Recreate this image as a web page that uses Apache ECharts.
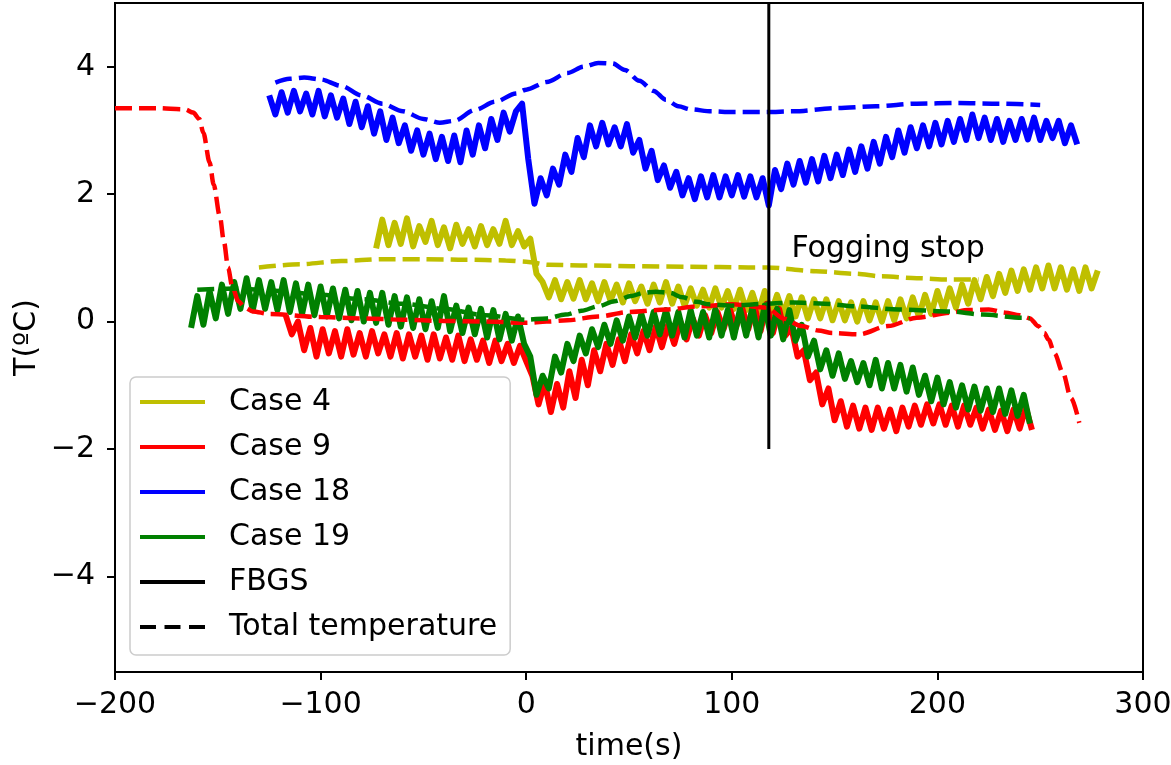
<!DOCTYPE html>
<html>
<head>
<meta charset="utf-8">
<script src="https://cdn.jsdelivr.net/npm/echarts@6/dist/echarts.min.js"></script>
<style>
html,body{margin:0;padding:0;background:#fff;}
#chart{width:1171px;height:765px;}
</style>
</head>
<body>
<div id="chart"></div>
<script>
// ---------- data ----------
var xTicks = [-200, -100, 0, 100, 200, 300];
var yTicks = [-4, -2, 0, 2, 4];

// noisy measured traces: start time, sample step (s), values
var case4Start = -73, case4Step = 3;
var case4Vals = [1.15,1.60,1.20,1.55,1.22,1.62,1.18,1.50,1.25,1.58,1.20,1.48,1.15,1.52,1.22,1.45,1.18,1.50,1.20,1.45,1.22,1.58,1.20,1.42,1.18,
1.30,0.75,0.62,0.38,0.65,0.35,0.62,0.36,0.65,0.35,0.60,0.32,0.62,0.33,0.58,0.30,0.60,0.32,0.55,0.28,0.58,0.30,0.62,0.28,0.55,0.25,0.52,0.25,0.50,0.22,0.52,0.22,0.48,0.20,0.50,0.18,0.45,0.15,0.48,0.12,0.42,0.12,0.40,0.08,0.38,0.05,0.35,0.05,0.35,0.02,0.32,0.02,0.30,0.00,0.32,0.02,0.30,0.00,0.32,0.02,0.35,0.05,0.38,0.08,0.42,0.12,0.48,0.18,0.52,0.22,0.58,0.28,0.65,0.35,0.70,0.40,0.75,0.45,0.80,0.48,0.82,0.50,0.85,0.52,0.88,0.52,0.85,0.50,0.82,0.48,0.85,0.52,0.80];

var case9Start = -117, case9Step = 3;
var case9Vals = [0.10,-0.20,0.00,-0.45,-0.10,-0.55,-0.12,-0.50,-0.15,-0.55,-0.12,-0.52,-0.18,-0.55,-0.15,-0.50,-0.20,-0.55,-0.18,-0.58,-0.20,-0.55,-0.22,-0.60,-0.20,-0.58,-0.25,-0.60,-0.22,-0.62,-0.28,-0.60,-0.30,-0.65,-0.30,-0.62,-0.35,-0.65,-0.38,-0.62,
-0.85,-1.30,-0.95,-1.42,-0.98,-1.35,-0.78,-1.20,-0.60,-1.00,-0.45,-0.78,-0.35,-0.68,-0.28,-0.62,-0.20,-0.50,-0.15,-0.45,-0.08,-0.40,-0.05,-0.35,0.00,-0.28,0.05,-0.22,0.10,-0.18,0.15,-0.12,0.20,-0.10,0.22,-0.12,0.25,-0.15,0.28,-0.18,0.20,-0.22,-0.10,-0.55,-0.45,-0.92,-0.80,-1.30,-1.05,-1.55,-1.25,-1.65,-1.32,-1.68,-1.35,-1.70,-1.35,-1.68,-1.38,-1.72,-1.35,-1.65,-1.32,-1.62,-1.30,-1.60,-1.30,-1.62,-1.32,-1.65,-1.32,-1.62,-1.35,-1.68,-1.38,-1.70,-1.40,-1.72,-1.38,-1.68,-1.35,-1.70];

var case18Start = -125, case18Step = 3;
var case18Vals = [3.55,3.25,3.60,3.28,3.62,3.30,3.58,3.25,3.62,3.22,3.55,3.20,3.50,3.10,3.45,3.05,3.38,2.95,3.30,2.85,3.20,2.80,3.08,2.68,3.00,2.62,2.95,2.55,2.90,2.52,2.92,2.50,3.00,2.62,3.08,2.72,3.18,2.85,3.28,2.98,3.30,3.42,
2.55,1.85,2.25,1.98,2.40,2.15,2.62,2.35,2.88,2.58,3.08,2.75,3.12,2.78,3.05,2.75,3.10,2.65,2.85,2.40,2.68,2.22,2.45,2.10,2.35,1.98,2.25,1.92,2.28,1.95,2.30,1.95,2.28,1.98,2.30,1.96,2.28,1.95,2.25,1.82,2.38,2.08,2.48,2.15,2.52,2.18,2.55,2.20,2.60,2.25,2.62,2.30,2.70,2.35,2.75,2.40,2.82,2.48,2.90,2.58,3.00,2.65,3.05,2.72,3.08,2.75,3.12,2.78,3.15,2.82,3.18,2.85,3.25,2.88,3.20,2.85,3.18,2.82,3.15,2.85,3.18,2.86,3.20,2.85,3.15,2.88,3.15,2.80,3.08,2.78];

var case19Start = -163, case19Step = 3;
var case19Vals = [-0.10,0.40,-0.05,0.48,0.05,0.58,0.12,0.62,0.20,0.68,0.18,0.65,0.20,0.62,0.18,0.65,0.15,0.60,0.12,0.58,0.10,0.55,0.08,0.52,0.05,0.50,0.02,0.48,0.00,0.45,-0.02,0.45,-0.05,0.40,-0.08,0.38,-0.10,0.35,-0.12,0.32,-0.10,0.40,-0.15,0.25,-0.18,0.22,-0.20,0.20,-0.25,0.18,-0.28,0.12,-0.30,0.08,-0.35,
-0.55,-1.15,-0.85,-1.05,-0.55,-0.80,-0.35,-0.62,-0.22,-0.50,-0.12,-0.40,-0.05,-0.35,0.02,-0.30,0.08,-0.25,0.12,-0.22,0.15,-0.20,0.18,-0.22,0.15,-0.25,0.18,-0.22,0.15,-0.25,0.20,-0.22,0.18,-0.25,0.20,-0.22,0.22,-0.25,0.25,-0.22,0.20,-0.28,0.18,-0.30,-0.05,-0.55,-0.30,-0.75,-0.45,-0.85,-0.50,-0.90,-0.62,-0.95,-0.65,-1.00,-0.60,-1.05,-0.65,-1.05,-0.68,-1.10,-0.72,-1.15,-0.85,-1.25,-0.88,-1.30,-0.95,-1.35,-1.00,-1.38,-1.02,-1.40,-1.05,-1.42,-1.05,-1.45,-1.08,-1.48,-1.15,-1.60];

// total temperature (dashed) curves
var case4TotT = [-130,-110,-90,-70,-50,-30,-10,0,11,30,51,80,108,117,141,160,173,190,206,220];
var case4TotV = [0.85,0.90,0.95,0.98,0.98,0.97,0.96,0.94,0.89,0.88,0.87,0.86,0.85,0.85,0.79,0.75,0.71,0.68,0.66,0.66];

var case9TotT = [-200,-180,-166,-162,-159,-157,-154,-152,-149,-147,-145,-143,-140,-137,-133,-125,-100,-80,-60,-40,-20,0,10,20,35,50,68,85,100,117,125,134,142,149,162,176,190,206,215,225,233,240,245,249,252,254,257,261,265,269];
var case9TotV = [3.35,3.35,3.33,3.28,3.18,2.96,2.50,2.15,1.65,1.25,0.85,0.55,0.32,0.22,0.16,0.12,0.07,0.05,0.03,0.01,0.00,-0.02,0.00,0.02,0.08,0.15,0.19,0.24,0.27,0.22,0.05,-0.07,-0.14,-0.18,-0.20,-0.07,0.06,0.14,0.18,0.19,0.14,0.10,0.05,-0.07,-0.18,-0.28,-0.50,-0.80,-1.20,-1.59];

var case18TotT = [-122,-115,-108,-100,-90,-80,-70,-60,-50,-42,-35,-25,-15,-5,0,10,20,28,35,42,48,55,62,68,74,80,90,100,117,130,150,170,190,210,230,250];
var case18TotV = [3.75,3.81,3.83,3.80,3.70,3.55,3.42,3.30,3.18,3.12,3.15,3.32,3.45,3.58,3.64,3.76,3.90,4.00,4.06,4.05,3.95,3.78,3.62,3.48,3.38,3.33,3.30,3.29,3.29,3.30,3.35,3.38,3.42,3.43,3.42,3.40];

var case19TotT = [-160,-140,-120,-100,-80,-60,-40,-20,0,10,19,27,35,43,51,57,63,70,76,83,89,100,117,130,145,160,181,206,222,241,245];
var case19TotV = [0.50,0.52,0.48,0.42,0.35,0.28,0.20,0.10,0.03,0.05,0.11,0.17,0.24,0.32,0.40,0.45,0.47,0.45,0.38,0.31,0.27,0.25,0.28,0.30,0.28,0.24,0.19,0.16,0.11,0.06,0.05];

// FBGS vertical marker (fogging stop)
var fbgsTime = 118;
var fbgsRange = [-2, 5];
var noteText = 'Fogging stop';
var notePos = [129, 1.14];

var legendNames = ['Case 4', 'Case 9', 'Case 18', 'Case 19', 'FBGS', 'Total temperature'];
var colors = {c4: '#bfbf00', c9: '#ff0000', c18: '#0000ff', c19: '#008000', k: '#000000'};

// ---------- build ----------
function noisy(start, step, vals) {
  return vals.map(function (v, i) { return [start + i * step, v]; });
}
function pairs(t, v) {
  return t.map(function (x, i) { return [x, v[i]]; });
}
function minusFmt(v) { return String(v).replace('-', '\u2212'); }

var FONT = 'DejaVu Sans';
var FS = 30;
var solidIcon = 'path://M0,0H65V4H0Z';
var dashIcon = 'path://M0,0H15V4H0Z M23,0H38V4H23Z M46,0H61V4H46Z';

function noisySeries(name, data, color) {
  return {
    name: name, type: 'line', data: data, showSymbol: false, symbol: 'none',
    color: color, lineStyle: {width: 6, color: color, join: 'round', cap: 'butt'}, animation: false, silent: true
  };
}
function dashSeries(name, data, color) {
  return {
    name: name, type: 'line', data: data, showSymbol: false, symbol: 'none', smooth: 0.3, smoothMonotone: 'x',
    color: color, lineStyle: {width: 4.5, color: color, type: [17, 7], cap: 'butt'}, animation: false, silent: true
  };
}

var chart = echarts.init(document.getElementById('chart'), null, {renderer: 'canvas'});
chart.setOption({
  backgroundColor: '#fff',
  animation: false,
  textStyle: {fontFamily: FONT},
  grid: {left: 115, right: 28, top: 3, bottom: 93, show: true, borderColor: '#000', borderWidth: 2,
         backgroundColor: 'transparent', outerBoundsMode: 'none', containLabel: false},
  xAxis: {
    type: 'value', min: xTicks[0], max: xTicks[xTicks.length - 1], interval: 100,
    name: 'time(s)', nameLocation: 'middle', nameGap: 60, nameMoveOverlap: false,
    nameTextStyle: {fontSize: FS, color: '#000', fontFamily: FONT},
    axisLine: {show: false, onZero: false}, splitLine: {show: false},
    axisTick: {show: true, length: 8, lineStyle: {color: '#000', width: 2}},
    axisLabel: {fontSize: FS, color: '#000', fontFamily: FONT, margin: 18, formatter: minusFmt}
  },
  yAxis: {
    type: 'value', min: -5.5, max: 5,
    name: 'T(\u00baC)', nameLocation: 'middle', nameGap: 73, nameMoveOverlap: false,
    nameTextStyle: {fontSize: FS, color: '#000', fontFamily: FONT},
    axisLine: {show: false, onZero: false}, splitLine: {show: false},
    axisTick: {show: true, length: 8, lineStyle: {color: '#000', width: 2}, customValues: yTicks},
    axisLabel: {fontSize: FS, color: '#000', fontFamily: FONT, margin: 20, formatter: minusFmt, customValues: yTicks}
  },
  legend: {
    orient: 'vertical', left: 130, top: 377,
    data: [
      {name: legendNames[0], icon: solidIcon},
      {name: legendNames[1], icon: solidIcon},
      {name: legendNames[2], icon: solidIcon},
      {name: legendNames[3], icon: solidIcon},
      {name: legendNames[4], icon: solidIcon},
      {name: legendNames[5], icon: dashIcon}
    ],
    itemWidth: 65, itemHeight: 4, itemGap: 15, symbolKeepAspect: false,
    padding: [10, 13, 13, 10],
    backgroundColor: 'rgba(255,255,255,0.85)', borderColor: '#cccccc', borderWidth: 1.5, borderRadius: 6,
    textStyle: {fontSize: FS, color: '#000', fontFamily: FONT, lineHeight: 30, padding: [0, 0, 0, 19]},
    selectedMode: false
  },
  series: [
    noisySeries('Case 4', noisy(case4Start, case4Step, case4Vals), colors.c4),
    noisySeries('Case 9', noisy(case9Start, case9Step, case9Vals), colors.c9),
    noisySeries('Case 18', noisy(case18Start, case18Step, case18Vals), colors.c18),
    noisySeries('Case 19', noisy(case19Start, case19Step, case19Vals), colors.c19),
    dashSeries('Case 4 total', pairs(case4TotT, case4TotV), colors.c4),
    dashSeries('Case 9 total', pairs(case9TotT, case9TotV), colors.c9),
    dashSeries('Case 18 total', pairs(case18TotT, case18TotV), colors.c18),
    dashSeries('Case 19 total', pairs(case19TotT, case19TotV), colors.c19),
    {
      name: 'FBGS', type: 'line', data: [[fbgsTime, fbgsRange[0]], [fbgsTime, fbgsRange[1]]],
      showSymbol: false, symbol: 'none', color: colors.k, lineStyle: {width: 3, color: colors.k}, animation: false, silent: true
    },
    {
      name: 'Total temperature', type: 'line', data: [], color: colors.k,
      lineStyle: {width: 4, color: colors.k, type: [17, 7]}, symbol: 'none'
    },
    {
      name: 'note', type: 'scatter', data: [notePos], symbolSize: 0, silent: true,
      itemStyle: {opacity: 1},
      label: {show: true, position: 'right', distance: 0, formatter: noteText, fontSize: FS, color: '#000', opacity: 1, fontFamily: FONT},
      emphasis: {disabled: true}
    }
  ]
});
</script>
</body>
</html>
